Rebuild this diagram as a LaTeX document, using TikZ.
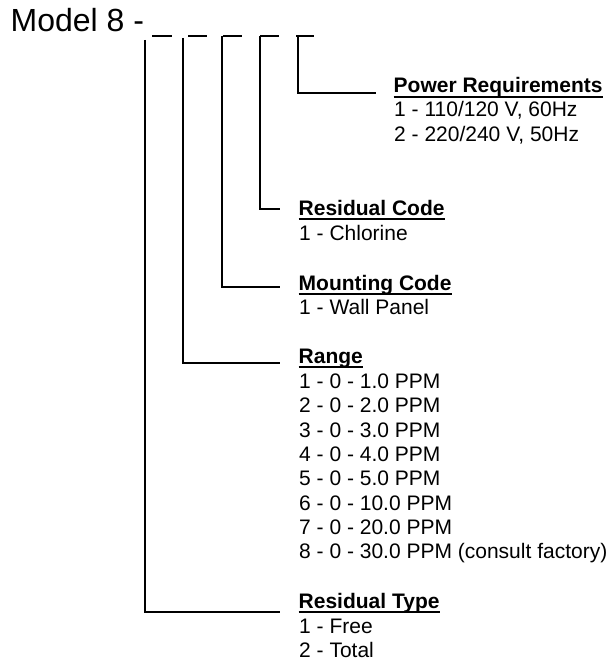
\documentclass[tikz,border=0pt]{standalone}
\usepackage{fontspec}
\setmainfont{Liberation Sans}
\begin{document}
\begin{tikzpicture}[x=1pt,y=-1pt,
  txt/.style={anchor=base west, inner sep=0pt, font=\fontsize{21}{24}\selectfont},
  hdr/.style={anchor=base west, inner sep=0pt, font=\fontsize{21}{24}\selectfont\bfseries},
  ln/.style={line width=1.3pt},
  ul/.style={line width=1.8pt}]
\useasboundingbox (0,0) rectangle (609,660);
% title
\node[anchor=base west, inner sep=0pt, font=\fontsize{32}{38}\selectfont] (title) at (10.5,32) {Model 8 -};
% blanks
\draw[ln] (152,36) -- (172,36);
\draw[ln] (188,36) -- (207,36);
\draw[ln] (223,36) -- (242,36);
\draw[ln] (260,36) -- (279,36);
\draw[ln] (296,36) -- (314,36);
% connector start points
\coordinate (b1) at (145,40);
\coordinate (b2) at (183,38);
\coordinate (b3) at (222,36);
\coordinate (b4) at (260,36);
\coordinate (b5) at (298,36);
% connector end points
\coordinate (e5) at (376,93);
\coordinate (e4) at (280,209);
\coordinate (e3) at (280,287);
\coordinate (e2) at (280,363);
\coordinate (e1) at (280,612);
% Power requirements
\node[hdr] (pr) at (393.5,93) {Power Requirements};
\node[txt] (pr1) at (394,117) {1 - 110/120 V, 60Hz};
\node[txt] (pr2) at (394,142) {2 - 220/240 V, 50Hz};
% Residual code
\node[hdr] (rc) at (298.5,215) {Residual Code};
\node[txt] (rc1) at (299,240) {1 - Chlorine};
% Mounting code
\node[hdr] (mc) at (298.5,290) {Mounting Code};
\node[txt] (mc1) at (299,314) {1 - Wall Panel};
% Range
\node[hdr] (rg) at (298.5,363) {Range};
\node[txt] (rg1) at (299,388) {1 - 0 - 1.0 PPM};
\node[txt] (rg2) at (299,412) {2 - 0 - 2.0 PPM};
\node[txt] (rg3) at (299,437) {3 - 0 - 3.0 PPM};
\node[txt] (rg4) at (299,461) {4 - 0 - 4.0 PPM};
\node[txt] (rg5) at (299,485) {5 - 0 - 5.0 PPM};
\node[txt] (rg6) at (299,510) {6 - 0 - 10.0 PPM};
\node[txt] (rg7) at (299,534) {7 - 0 - 20.0 PPM};
\node[txt] (rg8) at (299,558) {8 - 0 - 30.0 PPM (consult factory)};
% Residual type
\node[hdr] (rt) at (298.5,608) {Residual Type};
\node[txt] (rt1) at (299,633) {1 - Free};
\node[txt] (rt2) at (299,657) {2 - Total};
% underlines
\foreach \h in {pr,rc,mc,rg,rt}
  \draw[ul] ([yshift=-4pt]\h.base west) -- ([yshift=-4pt]\h.base east);
% connectors
\draw[ln] (b5) |- (e5);
\draw[ln] (b4) |- (e4);
\draw[ln] (b3) |- (e3);
\draw[ln] (b2) |- (e2);
\draw[ln] (b1) |- (e1);
\end{tikzpicture}
\end{document}
